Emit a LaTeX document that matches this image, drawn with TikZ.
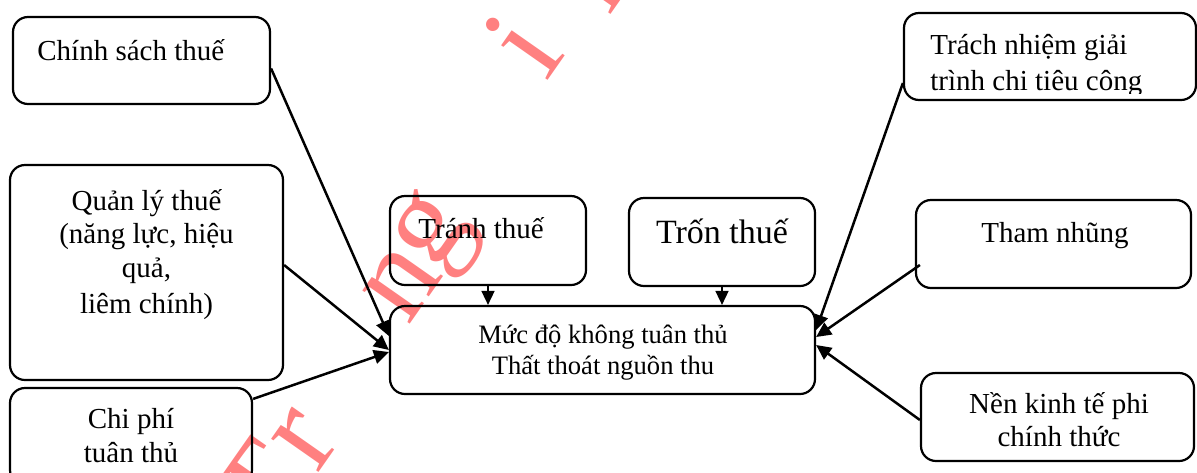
\documentclass[tikz,border=0pt]{standalone}
\usepackage{fontspec}
\setmainfont{Liberation Serif}
\usetikzlibrary{arrows.meta,calc}
\definecolor{wmred}{RGB}{255,128,128}
\begin{document}
\begin{tikzpicture}[x=0.5pt,y=-0.5pt,
  box/.style={draw, line width=1.1pt, rounded corners=7.5pt, inner sep=0pt},
  lbl/.style={anchor=base, inner sep=0pt, font=\fontsize{14.5}{17}\selectfont},
  mid/.style={anchor=base, inner sep=0pt, font=\fontsize{13.3}{15}\selectfont},
  big/.style={anchor=base, inner sep=0pt, font=\fontsize{17}{20}\selectfont},
  wm/.style={text=wmred, inner sep=0pt, rotate=55, font=\fontsize{63}{63}\selectfont},
  arr/.style={line width=1.25pt, -{Triangle[length=7.5pt,width=7pt]}},
  down/.style={line width=0.8pt, -{Triangle[length=7pt,width=6.5pt]}}]
\clip (0,0) rectangle (1197,472);

% watermark letters
\node[wm] (wT) at (264,488) {T};
\node[wm] (wr) at (305,440) {r};
\node[wm] (wn) at (402,284) {n};
\node[wm] (wg) at (438,236) {g};
\node[wm] (wi) at (522,44) {i};
\node[wm] (wh) at (592,-34) {h};

% boxes
\node[box, minimum width=128.5pt, minimum height=43.5pt] (cs) at (141.5,60.5) {};
\node[box, minimum width=136.5pt, minimum height=107.5pt] (ql) at (146.5,272.5) {};
\node[box, minimum width=121pt, minimum height=48.5pt] (cp) at (131,436.5) {};
\node[box, minimum width=98pt, minimum height=44.5pt] (tr) at (488,240.5) {};
\node[box, minimum width=93pt, minimum height=44pt] (tn) at (722,242) {};
\node[box, minimum width=212.5pt, minimum height=44pt] (c) at (602.5,350) {};
\node[box, minimum width=146pt, minimum height=43.5pt] (th) at (1050,56.5) {};
\node[box, minimum width=137.5pt, minimum height=44pt] (tham) at (1053.5,244) {};
\node[box, minimum width=136.5pt, minimum height=44pt] (nen) at (1057.5,417) {};

% texts
\node[lbl, anchor=base west] (cst) at (37,60) {Chính sách thuế};
\node[lbl] (ql1) at (146.5,210) {Quản lý thuế};
\node[lbl] (ql2) at (146.5,243) {(năng lực, hiệu};
\node[lbl] (ql3) at (146.5,277) {quả,};
\node[lbl] (ql4) at (146.5,313) {liêm chính)};
\node[lbl] (cp1) at (131,428) {Chi phí};
\node[lbl] (cp2) at (131,462) {tuân thủ};
\node[lbl, anchor=base west] (trt) at (418,238) {Tránh thuế};
\node[big] (tnt) at (722,243) {Trốn thuế};
\node[mid] (c1) at (603,343) {Mức độ không tuân thủ};
\node[mid] (c2) at (603,374) {Thất thoát nguồn thu};
\begin{scope}
  \clip (th.north west) rectangle ($(th.east |- 0,93)$);
  \node[lbl, anchor=base west] (th1) at (930,54) {Trách nhiệm giải};
  \node[lbl, anchor=base west] (th2) at (930,90) {trình chi tiêu công};
\end{scope}
\node[lbl] (thamt) at (1055,242) {Tham nhũng};
\node[lbl] (nen1) at (1059,413) {Nền kinh tế phi};
\node[lbl] (nen2) at (1059,446) {chính thức};

% connectors
\draw[arr] ($(cs.east)+(0,8)$) -- ($(c.west)+(0,-14)$);
\draw[arr] ($(ql.east)+(0,-7.5)$) -- (c.west);
\draw[arr] ($(cp.north east)+(0,12)$) -- ($(c.west)+(0,2)$);
\draw[down] (tr.south) -- (tr.south |- c.north);
\draw[down] (tn.south) -- (tn.south |- c.north);
\draw[arr] ($(th.west)+(0,26.5)$) -- ($(c.east)+(0,-20)$);
\draw[arr] ($(tham.west)+(5,21)$) -- ($(c.east)+(0,-13)$);
\draw[arr] ($(nen.west)+(0,3)$) -- ($(c.east)+(0,-5)$);
\end{tikzpicture}
\end{document}
